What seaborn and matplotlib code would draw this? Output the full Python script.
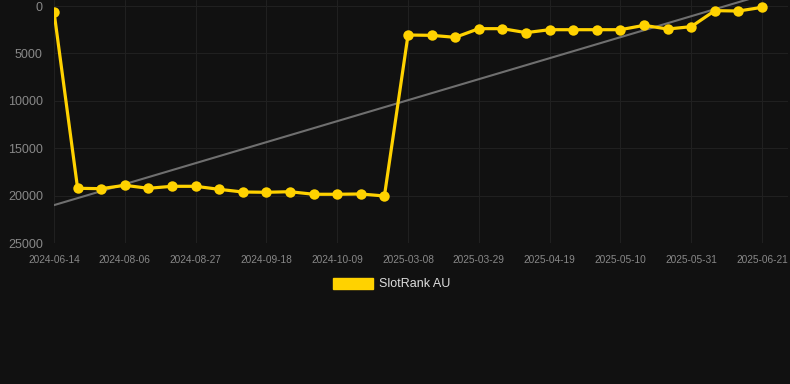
import matplotlib
matplotlib.use("Agg")
import matplotlib.pyplot as plt
import seaborn as sns
import numpy as np
import pandas as pd

dates = ["2024-06-14", "2024-07-23", "2024-07-30", "2024-08-06", "2024-08-13", "2024-08-20",
         "2024-08-27", "2024-09-04", "2024-09-11", "2024-09-18", "2024-09-25", "2024-10-02",
         "2024-10-09", "2024-10-16", "2024-10-23", "2025-03-08", "2025-03-15", "2025-03-22",
         "2025-03-29", "2025-04-05", "2025-04-12", "2025-04-19", "2025-04-26", "2025-05-03",
         "2025-05-10", "2025-05-17", "2025-05-24", "2025-05-31", "2025-06-07", "2025-06-14",
         "2025-06-21"]
ranks = [600, 19230, 19270, 18915, 19230, 19020, 19020, 19340, 19620, 19650, 19590, 19860,
         19860, 19830, 20040, 3060, 3095, 3305, 2390, 2390, 2810, 2500, 2500, 2500, 2500,
         2040, 2430, 2180, 490, 530, 140]
y_ticks = [0, 5000, 10000, 15000, 20000, 25000]
series_name = "SlotRank AU"

BG = "#111111"
YELLOW = "#FFD200"

df = pd.DataFrame({"idx": np.arange(len(dates)), "date": dates, "rank": ranks})

sns.set_theme(style="dark")
plt.rcParams["font.family"] = ["Liberation Sans", "DejaVu Sans"]

fig = plt.figure(figsize=(7.9, 3.84), dpi=100, facecolor=BG)
ax = fig.add_axes([54 / 790, 1 - 243 / 384, (788 - 54) / 790, 243 / 384])
ax.set_facecolor(BG)

# trend line
sns.regplot(data=df, x="idx", y="rank", scatter=False, ci=None, ax=ax,
            line_kws=dict(color="#6f6f6f", lw=1.5, zorder=2))

sns.lineplot(data=df, x="idx", y="rank", ax=ax, color=YELLOW, lw=2.3,
             marker="o", markersize=7.5, markeredgewidth=0, zorder=3,
             label=series_name, legend=False)

ax.set_xlim(0, 31.1)
ax.set_ylim(25000, -633)
ax.set_yticks(y_ticks)
ax.set_yticklabels([str(v) for v in y_ticks])
tick_idx = list(range(0, len(dates), 3))
ax.set_xticks(tick_idx)
ax.set_xticklabels([dates[i] for i in tick_idx])

ax.grid(True, color="#202020", lw=0.8)
ax.set_axisbelow(True)
for s in ax.spines.values():
    s.set_visible(False)
ax.tick_params(axis="y", colors="#888888", labelsize=9, length=0, pad=8)
ax.tick_params(axis="x", colors="#888888", labelsize=7.3, length=4, width=0.8,
               pad=4.5, direction="out")
ax.tick_params(axis="x", color="#202020")
ax.set_xlabel("")
ax.set_ylabel("")

# legend
from matplotlib.patches import Patch
handles = [Patch(facecolor=YELLOW, edgecolor=YELLOW, label=series_name)]
fig.legend(handles=handles, loc="center", bbox_to_anchor=(392 / 790, 1 - 284 / 384),
           frameon=False, fontsize=9, labelcolor="#dddddd", handlelength=3.2,
           handleheight=1.0, handletextpad=0.5)

fig.savefig("out.png", dpi=100, facecolor=BG)
